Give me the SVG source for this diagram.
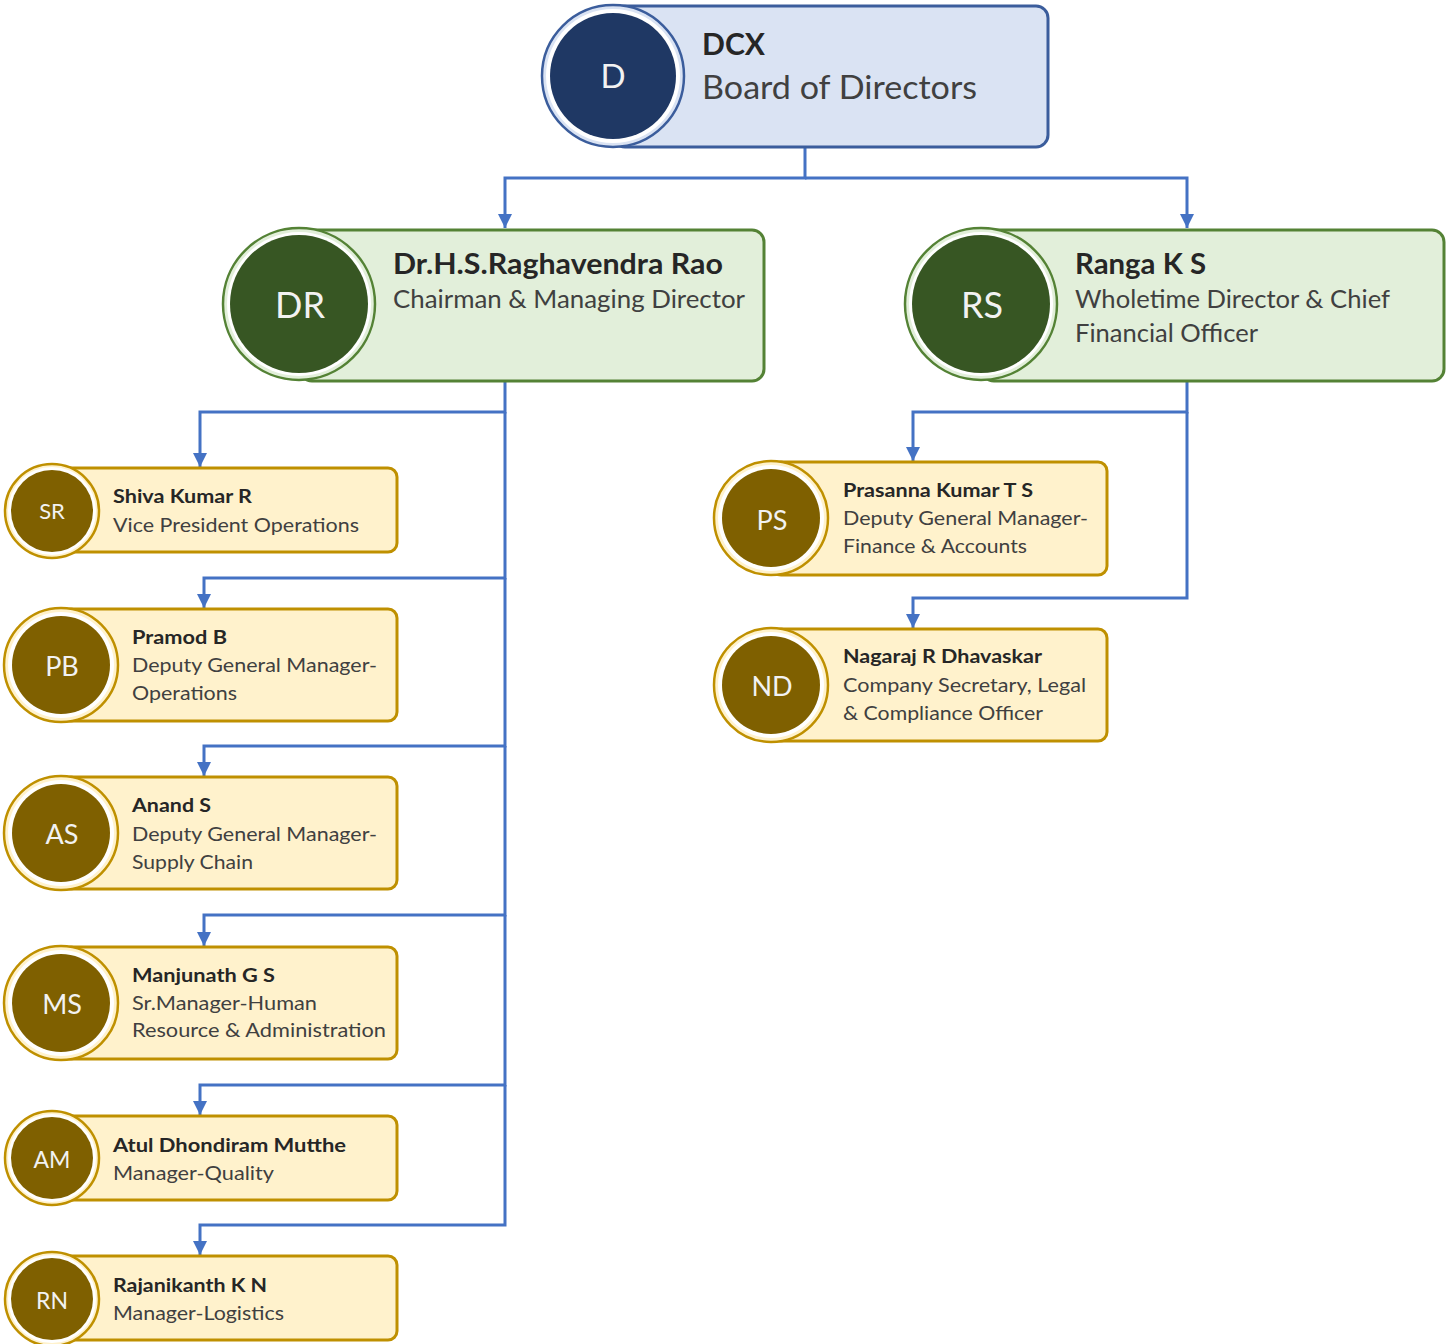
<svg xmlns="http://www.w3.org/2000/svg" width="1446" height="1344" viewBox="0 0 1446 1344">
<defs>
<style>
.bg{fill:#ffffff}
.cn{fill:none;stroke:#4472c4;stroke-width:3;marker-end:url(#ah)}
.rb{fill:#dae3f3;stroke:#3b5d9c;stroke-width:3}
.rg{fill:#e2efda;stroke:#548235;stroke-width:3}
.ry{fill:#fff2cc;stroke:#bf9000;stroke-width:3}
.ob{fill:#dae3f3;stroke:#3b5d9c;stroke-width:2.5}
.og{fill:#e2efda;stroke:#548235;stroke-width:2.5}
.oy{fill:#fff2cc;stroke:#bf9000;stroke-width:2.5}
.w{fill:#ffffff}
.db{fill:#1f3864}
.dg{fill:#375623}
.dy{fill:#7f6000}
text{font-family:Lato,"Open Sans","Liberation Sans",sans-serif}
.ini{fill:#f2f2f2;text-anchor:middle}
.nm{font-weight:bold;fill:#262626}
.tt{fill:#404040}
</style>
<marker id="ah" markerUnits="userSpaceOnUse" markerWidth="16" markerHeight="14" refX="14" refY="7" orient="auto">
<path d="M0,0 L14,7 L0,14 Z" fill="#4472c4"/>
</marker>
</defs>
<rect class="bg" x="0" y="0" width="1446" height="1344"/>

<g id="connectors">
<path class="cn" d="M805,147 V178 H505 V228"/>
<path class="cn" d="M805,178 H1187 V228"/>
<path class="cn" d="M505,381 V412 H200 V467"/>
<path class="cn" d="M505,412 V578 H204 V608"/>
<path class="cn" d="M505,578 V746 H204 V776"/>
<path class="cn" d="M505,746 V915 H204 V946"/>
<path class="cn" d="M505,915 V1085 H200 V1115"/>
<path class="cn" d="M505,1085 V1225 H200 V1255"/>
<path class="cn" d="M1187,381 V412 H913 V461"/>
<path class="cn" d="M1187,412 V598 H913 V628"/>
</g>

<g id="node-dcx">
<rect class="rb" x="613" y="6" width="435" height="141" rx="12"/>
<circle class="ob" cx="613" cy="76" r="71"/>
<circle class="w" cx="613" cy="76" r="67"/>
<circle class="db" cx="613" cy="76" r="63"/>
<text class="ini" x="613" y="88" font-size="33">D</text>
<text class="nm" x="702" y="55" font-size="31" textLength="63" lengthAdjust="spacingAndGlyphs">DCX</text>
<text class="tt" x="702" y="99" font-size="32" textLength="275" lengthAdjust="spacingAndGlyphs">Board of Directors</text>
</g>

<g id="node-dr">
<rect class="rg" x="300" y="230" width="464" height="151" rx="12"/>
<circle class="og" cx="299" cy="304" r="76"/>
<circle class="w" cx="299" cy="304" r="72"/>
<circle class="dg" cx="299" cy="304" r="69"/>
<text class="ini" x="300" y="318" font-size="36">DR</text>
<text class="nm" x="393" y="274" font-size="28" textLength="330" lengthAdjust="spacingAndGlyphs">Dr.H.S.Raghavendra Rao</text>
<text class="tt" x="393" y="308" font-size="25" textLength="352" lengthAdjust="spacingAndGlyphs">Chairman &amp; Managing Director</text>
</g>

<g id="node-rs">
<rect class="rg" x="982" y="230" width="462" height="151" rx="12"/>
<circle class="og" cx="981" cy="304" r="76"/>
<circle class="w" cx="981" cy="304" r="72"/>
<circle class="dg" cx="981" cy="304" r="69"/>
<text class="ini" x="982" y="318" font-size="36">RS</text>
<text class="nm" x="1075" y="274" font-size="28" textLength="131" lengthAdjust="spacingAndGlyphs">Ranga K S</text>
<text class="tt" x="1075" y="308" font-size="25" textLength="315" lengthAdjust="spacingAndGlyphs">Wholetime Director &amp; Chief</text>
<text class="tt" x="1075" y="342" font-size="25" textLength="183" lengthAdjust="spacingAndGlyphs">Financial Officer</text>
</g>

<g id="node-sr">
<rect class="ry" x="52" y="468" width="345" height="84" rx="9"/>
<circle class="oy" cx="52" cy="511" r="47"/>
<circle class="w" cx="52" cy="511" r="44"/>
<circle class="dy" cx="52" cy="511" r="41"/>
<text class="ini" x="52" y="519" font-size="22">SR</text>
<text class="nm" x="113" y="503" font-size="18" textLength="139" lengthAdjust="spacingAndGlyphs">Shiva Kumar R</text>
<text class="tt" x="113" y="532" font-size="20" textLength="246" lengthAdjust="spacingAndGlyphs">Vice President Operations</text>
</g>

<g id="node-pb">
<rect class="ry" x="62" y="609" width="335" height="112" rx="9"/>
<circle class="oy" cx="61" cy="665" r="57"/>
<circle class="w" cx="61" cy="665" r="53"/>
<circle class="dy" cx="61" cy="665" r="49"/>
<text class="ini" x="62" y="676" font-size="27">PB</text>
<text class="nm" x="132" y="644" font-size="18" textLength="95" lengthAdjust="spacingAndGlyphs">Pramod B</text>
<text class="tt" x="132" y="672" font-size="20" textLength="245" lengthAdjust="spacingAndGlyphs">Deputy General Manager-</text>
<text class="tt" x="132" y="700" font-size="20" textLength="105" lengthAdjust="spacingAndGlyphs">Operations</text>
</g>

<g id="node-as">
<rect class="ry" x="62" y="777" width="335" height="112" rx="9"/>
<circle class="oy" cx="61" cy="833" r="57"/>
<circle class="w" cx="61" cy="833" r="53"/>
<circle class="dy" cx="61" cy="833" r="49"/>
<text class="ini" x="62" y="844" font-size="27">AS</text>
<text class="nm" x="132" y="812" font-size="18" textLength="79" lengthAdjust="spacingAndGlyphs">Anand S</text>
<text class="tt" x="132" y="841" font-size="20" textLength="245" lengthAdjust="spacingAndGlyphs">Deputy General Manager-</text>
<text class="tt" x="132" y="869" font-size="20" textLength="121" lengthAdjust="spacingAndGlyphs">Supply Chain</text>
</g>

<g id="node-ms">
<rect class="ry" x="62" y="947" width="335" height="112" rx="9"/>
<circle class="oy" cx="61" cy="1003" r="57"/>
<circle class="w" cx="61" cy="1003" r="53"/>
<circle class="dy" cx="61" cy="1003" r="49"/>
<text class="ini" x="62" y="1014" font-size="27">MS</text>
<text class="nm" x="132" y="982" font-size="18" textLength="143" lengthAdjust="spacingAndGlyphs">Manjunath G S</text>
<text class="tt" x="132" y="1010" font-size="20" textLength="185" lengthAdjust="spacingAndGlyphs">Sr.Manager-Human</text>
<text class="tt" x="132" y="1037" font-size="20" textLength="254" lengthAdjust="spacingAndGlyphs">Resource &amp; Administration</text>
</g>

<g id="node-am">
<rect class="ry" x="52" y="1116" width="345" height="84" rx="9"/>
<circle class="oy" cx="52" cy="1158" r="47"/>
<circle class="w" cx="52" cy="1158" r="44"/>
<circle class="dy" cx="52" cy="1158" r="41"/>
<text class="ini" x="52" y="1168" font-size="23">AM</text>
<text class="nm" x="113" y="1152" font-size="18" textLength="233" lengthAdjust="spacingAndGlyphs">Atul Dhondiram Mutthe</text>
<text class="tt" x="113" y="1180" font-size="20" textLength="161" lengthAdjust="spacingAndGlyphs">Manager-Quality</text>
</g>

<g id="node-rn">
<rect class="ry" x="52" y="1256" width="345" height="84" rx="9"/>
<circle class="oy" cx="52" cy="1299" r="47"/>
<circle class="w" cx="52" cy="1299" r="44"/>
<circle class="dy" cx="52" cy="1299" r="41"/>
<text class="ini" x="52" y="1309" font-size="23">RN</text>
<text class="nm" x="113" y="1292" font-size="18" textLength="154" lengthAdjust="spacingAndGlyphs">Rajanikanth K N</text>
<text class="tt" x="113" y="1320" font-size="20" textLength="171" lengthAdjust="spacingAndGlyphs">Manager-Logistics</text>
</g>

<g id="node-ps">
<rect class="ry" x="772" y="462" width="335" height="113" rx="9"/>
<circle class="oy" cx="771" cy="518" r="57"/>
<circle class="w" cx="771" cy="518" r="53"/>
<circle class="dy" cx="771" cy="518" r="49"/>
<text class="ini" x="772" y="530" font-size="27">PS</text>
<text class="nm" x="843" y="497" font-size="18" textLength="190" lengthAdjust="spacingAndGlyphs">Prasanna Kumar T S</text>
<text class="tt" x="843" y="525" font-size="20" textLength="245" lengthAdjust="spacingAndGlyphs">Deputy General Manager-</text>
<text class="tt" x="843" y="553" font-size="20" textLength="184" lengthAdjust="spacingAndGlyphs">Finance &amp; Accounts</text>
</g>

<g id="node-nd">
<rect class="ry" x="772" y="629" width="335" height="112" rx="9"/>
<circle class="oy" cx="771" cy="685" r="57"/>
<circle class="w" cx="771" cy="685" r="53"/>
<circle class="dy" cx="771" cy="685" r="49"/>
<text class="ini" x="772" y="696" font-size="27">ND</text>
<text class="nm" x="843" y="663" font-size="18" textLength="199" lengthAdjust="spacingAndGlyphs">Nagaraj R Dhavaskar</text>
<text class="tt" x="843" y="692" font-size="20" textLength="243" lengthAdjust="spacingAndGlyphs">Company Secretary, Legal</text>
<text class="tt" x="843" y="720" font-size="20" textLength="200" lengthAdjust="spacingAndGlyphs">&amp; Compliance Officer</text>
</g>
</svg>
